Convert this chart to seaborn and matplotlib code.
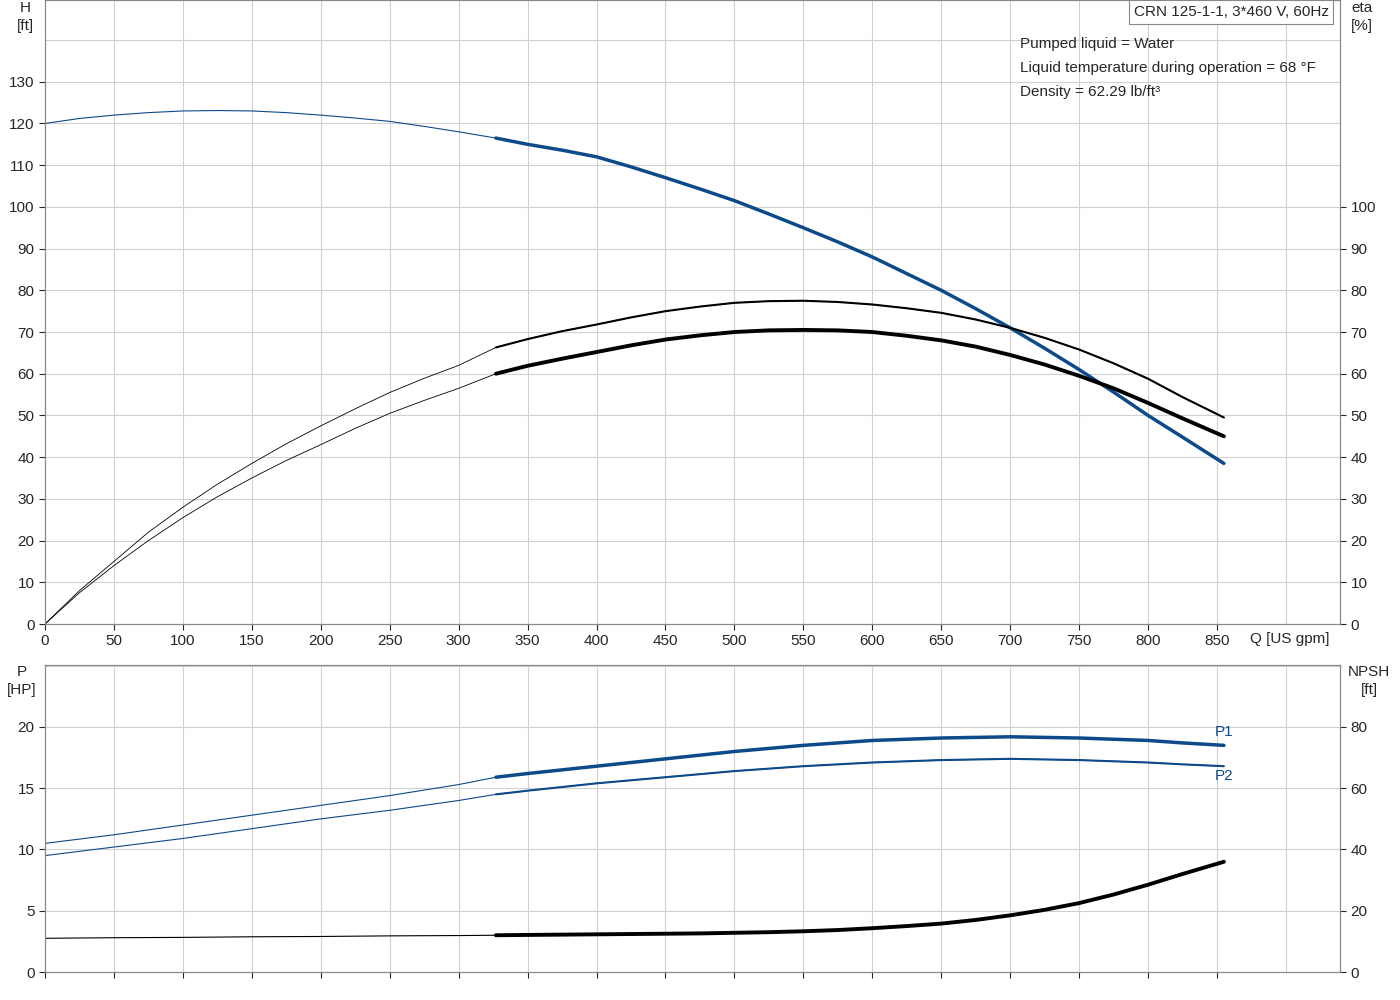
import matplotlib
matplotlib.use("Agg")
import matplotlib.pyplot as plt
import seaborn as sns
import numpy as np

sns.set_style("white")
plt.rcParams['font.family'] = ['Liberation Sans', 'DejaVu Sans']

BLUE = "#0d4a8a"
q = [0, 25, 50, 75, 100, 125, 150, 175, 200, 225, 250, 275, 300, 327, 350, 375, 400, 425, 450, 475,
     500, 525, 550, 575, 600, 625, 650, 675, 700, 725, 750, 775, 800, 825, 855]
head = [120, 121.2, 122, 122.6, 123, 123.1, 123, 122.6, 122, 121.3, 120.5, 119.3, 118, 116.5, 115, 113.6,
        112, 109.6, 107, 104.3, 101.5, 98.3, 95, 91.6, 88, 84, 80, 75.6, 71, 66.1, 61, 55.6, 50, 44.8, 38.5]
eta_pump = [0, 7.5, 14, 20, 25.5, 30.5, 35, 39.2, 43, 46.9, 50.5, 53.6, 56.5, 60, 61.9, 63.6, 65.2, 66.8,
            68.2, 69.2, 70, 70.4, 70.5, 70.4, 70, 69.1, 68, 66.5, 64.5, 62.2, 59.5, 56.5, 53, 49.3, 45]
eta_total = [0, 8, 15, 22, 28, 33.5, 38.5, 43.2, 47.5, 51.6, 55.5, 58.9, 62, 66.3, 68.3, 70.2, 71.8, 73.5,
             75, 76.1, 77, 77.4, 77.5, 77.2, 76.6, 75.7, 74.6, 73, 71, 68.6, 65.8, 62.5, 58.8, 54.4, 49.5]
p1 = [10.5, 10.85, 11.2, 11.6, 12.0, 12.4, 12.8, 13.2, 13.6, 14.0, 14.4, 14.85, 15.3, 15.9, 16.2, 16.5,
      16.8, 17.1, 17.4, 17.7, 18.0, 18.25, 18.5, 18.7, 18.9, 19.0, 19.1, 19.15, 19.2, 19.15, 19.1, 19.0,
      18.9, 18.7, 18.5]
p2 = [9.5, 9.85, 10.2, 10.55, 10.9, 11.3, 11.7, 12.1, 12.5, 12.85, 13.2, 13.6, 14.0, 14.5, 14.8, 15.1,
      15.4, 15.65, 15.9, 16.15, 16.4, 16.6, 16.8, 16.95, 17.1, 17.2, 17.3, 17.35, 17.4, 17.35, 17.3, 17.2,
      17.1, 16.95, 16.8]
npsh = [11, 11.1, 11.2, 11.25, 11.3, 11.4, 11.5, 11.55, 11.6, 11.7, 11.8, 11.85, 11.9, 12, 12.1, 12.2,
        12.3, 12.4, 12.5, 12.6, 12.8, 13, 13.3, 13.7, 14.3, 15, 15.8, 17, 18.5, 20.3, 22.5, 25.3, 28.5, 32, 36]

fig = plt.figure(figsize=(14, 10), dpi=100)
W, H = 1400, 1000
def axrect(x0, y0, x1, y1):
    return [x0 / W, 1 - y1 / H, (x1 - x0) / W, (y1 - y0) / H]

XMAX = (1340 - 45) / (1217 - 45) * 850
grid_kw = dict(color="#d0d0d0", lw=0.8)

def draw(ax, y, color, thin, thick):
    xs = np.array(q); ys = np.array(y)
    sns.lineplot(x=xs, y=ys, ax=ax, color=color, lw=thin, sort=False)
    m = xs >= 327
    sns.lineplot(x=xs[m], y=ys[m], ax=ax, color=color, lw=thick, sort=False)

# Top axes
ax = fig.add_axes(axrect(45, 0, 1340, 624))
ax.set_xlim(0, XMAX); ax.set_ylim(0, 149.6)
for v in range(50, 950, 50): ax.axvline(v, **grid_kw)
for v in range(10, 150, 10): ax.axhline(v, **grid_kw)
draw(ax, head, BLUE, 0.8, 2.5)
draw(ax, eta_total, "black", 0.6, 1.5)
draw(ax, eta_pump, "black", 0.6, 2.8)
ax.set_xticks(range(0, 900, 50)); ax.set_yticks(range(0, 140, 10))
ax.tick_params(labelsize=11, length=4, direction="out", left=True, bottom=True)
ax2 = ax.twinx(); ax2.set_ylim(0, 149.6); ax2.set_yticks(range(0, 110, 10))
ax2.tick_params(labelsize=11, length=4, right=True)
for a in (ax, ax2):
    for s in a.spines.values(): s.set_color("#888888")
fig.text(25 / W, 1 - 8 / H, "H", ha="center", va="center", fontsize=11)
fig.text(25 / W, 1 - 26 / H, "[ft]", ha="center", va="center", fontsize=11)
fig.text(1362 / W, 1 - 8 / H, "eta", ha="center", va="center", fontsize=11)
fig.text(1362 / W, 1 - 26 / H, "[%]", ha="center", va="center", fontsize=11)
fig.text(1250 / W, 1 - 639 / H, "Q [US gpm]", ha="left", va="center", fontsize=11)
fig.text(1231 / W, 1 - 12 / H, "CRN 125-1-1, 3*460 V, 60Hz", ha="center", va="center", fontsize=11,
         bbox=dict(boxstyle="square,pad=0.3", fc="white", ec="#888888", lw=0.8))
for i, t in enumerate(["Pumped liquid = Water", "Liquid temperature during operation = 68 °F",
                       "Density = 62.29 lb/ft³"]):
    fig.text(1020 / W, 1 - (44 + 24 * i) / H, t, ha="left", va="center", fontsize=11)
ax.set_xlabel(""); ax.set_ylabel("")

# Bottom axes
bx = fig.add_axes(axrect(45, 665, 1340, 972))
bx.set_xlim(0, XMAX); bx.set_ylim(0, 25.06)
for v in range(50, 950, 50): bx.axvline(v, **grid_kw)
for v in range(5, 26, 5): bx.axhline(v, **grid_kw)
draw(bx, p1, BLUE, 0.8, 2.5)
draw(bx, p2, BLUE, 0.8, 1.5)
bx.set_xticks(range(0, 900, 50)); bx.set_xticklabels([])
bx.set_yticks(range(0, 25, 5))
bx.tick_params(labelsize=11, length=4, left=True, bottom=True)
bx2 = bx.twinx(); bx2.set_ylim(0, 25.06 * 4); bx2.set_yticks(range(0, 100, 20))
bx2.tick_params(labelsize=11, length=4, right=True)
xs = np.array(q); ys = np.array(npsh)
sns.lineplot(x=xs, y=ys, ax=bx2, color="black", lw=0.8, sort=False)
sns.lineplot(x=xs[xs >= 327], y=ys[xs >= 327], ax=bx2, color="black", lw=2.8, sort=False)
bx2.set_ylabel(""); bx.set_ylabel("")
for a in (bx, bx2):
    for s in a.spines.values(): s.set_color("#888888")
bx.text(855, 19.6, "P1", color=BLUE, fontsize=11, ha="center", va="center")
bx.text(855, 16.0, "P2", color=BLUE, fontsize=11, ha="center", va="center")
fig.text(22 / W, 1 - 672 / H, "P", ha="center", va="center", fontsize=11)
fig.text(22 / W, 1 - 690 / H, "[HP]", ha="center", va="center", fontsize=11)
fig.text(1369 / W, 1 - 672 / H, "NPSH", ha="center", va="center", fontsize=11)
fig.text(1369 / W, 1 - 690 / H, "[ft]", ha="center", va="center", fontsize=11)

fig.savefig("out.png", dpi=100)
